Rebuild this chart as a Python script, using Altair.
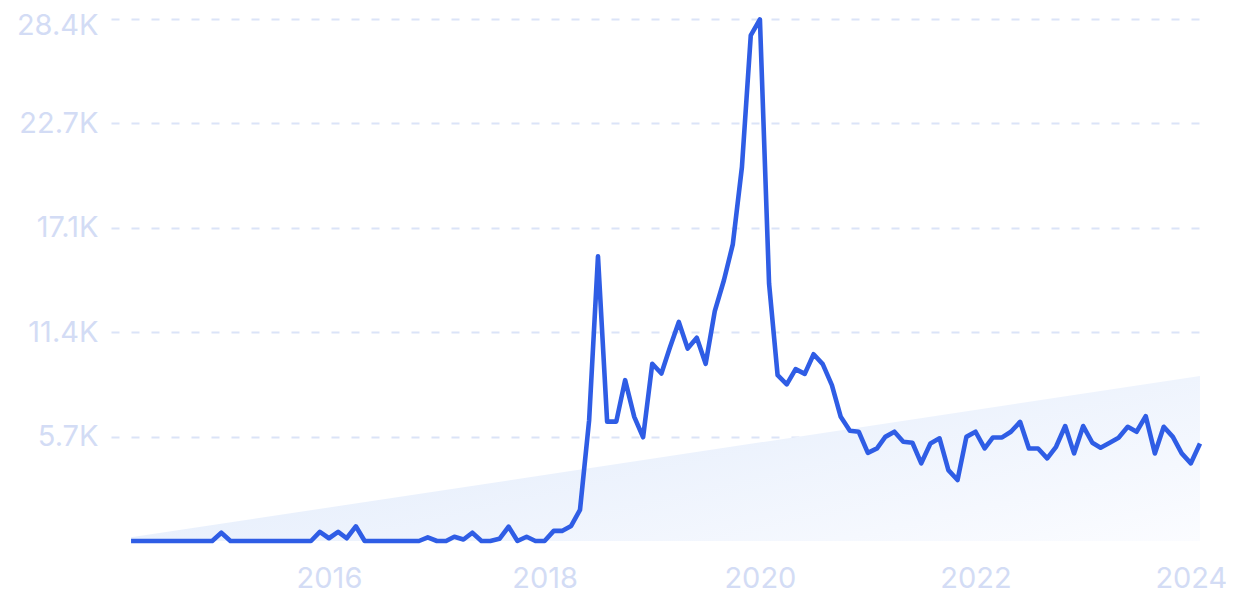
import altair as alt
import pandas as pd

# monthly values, 2014-03 .. 2024-02
start_month = "2014-03-01"
values = [
    0, 0, 0, 0, 0, 0, 0, 0, 0, 0,            # 2014-03 .. 2014-12
    450, 0, 0, 0, 0, 0, 0, 0, 0, 0,          # 2015-01 .. 2015-10
    0, 500, 150, 500, 150, 800, 0, 0, 0, 0,  # 2015-11 .. 2016-08
    0, 0, 0, 200, 0, 0, 230, 80, 450, 0,     # 2016-09 .. 2017-06
    0, 120, 780, 0, 230, 0, 0, 550, 550, 820,  # 2017-07 .. 2018-04
    1690, 6580, 15500, 6500, 6500, 8760, 6760, 5650, 9650, 9120,  # 2018-05 .. 2019-02
    10500, 11930, 10480, 11070, 9650, 12520, 14200, 16150, 20360, 27530,  # 2019-03 .. 2019-12
    28400, 14020, 9030, 8530, 9360, 9100, 10170, 9630, 8490, 6760,  # 2020-01 .. 2020-10
    6000, 5950, 4800, 5040, 5670, 5950, 5400, 5350, 4230, 5310,  # 2020-11 .. 2021-08
    5590, 3860, 3320, 5670, 5950, 5040, 5640, 5640, 5950, 6490,  # 2021-09 .. 2022-06
    5040, 5040, 4500, 5130, 6260, 4770, 6260, 5350, 5080, 5350,  # 2022-07 .. 2023-04
    5620, 6220, 5950, 6800, 4770, 6220, 5670, 4770, 4230, 5310,  # 2023-05 .. 2024-02
]
dates = pd.date_range(start_month, periods=len(values), freq="MS").strftime("%Y-%m-%d").tolist()

# linear trend (start / end)
trend_dates = [dates[0], dates[-1]]
trend_values = [200, 8980]

y_max = 28425
y_ticks = [y_max * k / 5 for k in range(1, 6)]
x_tick_years = ["2016-01-01", "2018-01-01", "2020-01-01", "2022-01-01", "2024-01-01"]

def ms(s):
    return int(pd.Timestamp(s, tz="UTC").value // 10**6)

x_domain = [ms("2013-12-23"), ms("2024-02-01")]

series = pd.DataFrame({"date": dates, "value": values})
trend = pd.DataFrame({"date": trend_dates, "value": trend_values, "base": [0, 0]})

label_color = "#d3dcf5"
font = "Inter"

x_enc = alt.X(
    "date:T",
    scale=alt.Scale(type="utc", domain=x_domain, nice=False),
    axis=alt.Axis(
        values=[ms(v) for v in x_tick_years],
        labelExpr="utcFormat(datum.value, '%Y')",
        title=None, grid=False, domain=False, ticks=False,
        labelColor=label_color, labelFont=font, labelFontSize=29,
        labelPadding=23, labelFlush=False,
    ),
)

y_scale = alt.Scale(domain=[0, y_max], nice=False)

area = alt.Chart(trend).mark_area(
    fill=alt.Gradient(
        gradient="linear",
        stops=[alt.GradientStop(color="#e1ebfb", offset=0),
               alt.GradientStop(color="#fbfcff", offset=1)],
        x1=0, y1=0.3, x2=1, y2=1,
    ),
    opacity=1,
).encode(
    x=x_enc,
    y=alt.Y("value:Q", scale=y_scale, axis=alt.Axis(
        values=y_ticks,
        labelExpr="format(datum.value / 1000, '.1f') + 'K'",
        title=None, domain=False, ticks=False,
        grid=True, gridColor="#dbe4f8", gridDash=[8, 12], gridWidth=2,
        labelColor=label_color, labelFont=font, labelFontSize=29,
        labelPadding=13,
        labelOffset={"condition": {"test": "datum.value > 28000", "value": 6}, "value": 0},
    )),
    y2="base:Q",
)

line = alt.Chart(series).mark_line(
    color="#2f5de5", strokeWidth=4.6, strokeJoin="round", strokeCap="butt",
).encode(
    x=alt.X("date:T"),
    y=alt.Y("value:Q"),
)

chart = alt.layer(area, line).properties(
    width=1089, height=522,
    autosize=alt.AutoSizeParams(type="none"),
    padding={"left": 103, "top": 11, "right": 26, "bottom": 60},
).configure_view(stroke=None)

chart.save("out.html", embed_options={"renderer": "svg", "actions": False})
